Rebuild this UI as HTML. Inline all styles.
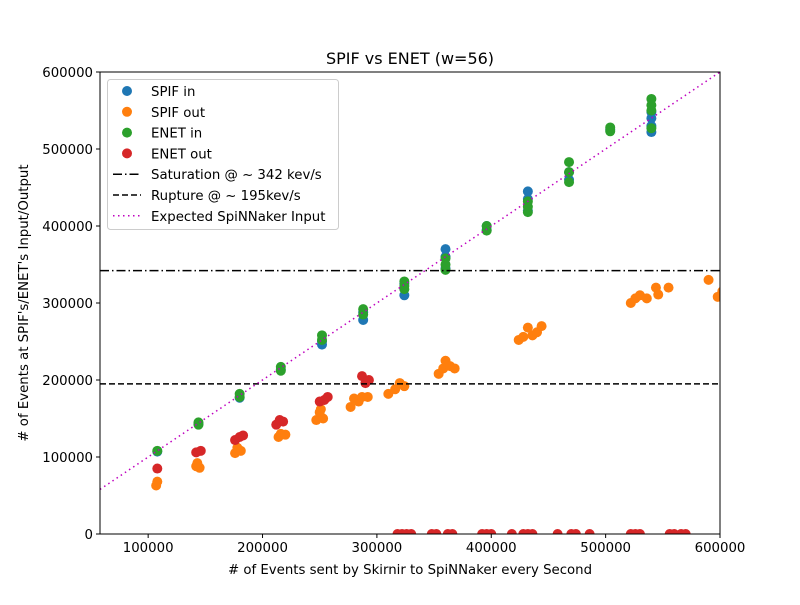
<!DOCTYPE html>
<html><head><meta charset="utf-8"><style>body{margin:0;background:#fff}svg{font-family:"DejaVu Sans","Liberation Sans",sans-serif}</style></head>
<body>
<svg id="c" width="800" height="600" xmlns="http://www.w3.org/2000/svg">
<rect width="800" height="600" fill="#fff"/>
<text x="410" y="64" font-size="16" text-anchor="middle">SPIF vs ENET (w=56)</text>
<g id="plot"></g>
<rect x="100" y="72" width="620" height="462" fill="none" stroke="#000" stroke-width="1"/>
<g id="ticks"></g>
<text x="410" y="574" font-size="13.3" text-anchor="middle"># of Events sent by Skirnir to SpiNNaker every Second</text>
<text transform="translate(28,303) rotate(-90)" font-size="13.3" text-anchor="middle"># of Events at SPIF's/ENET's Input/Output</text>
<g id="legend"></g>
</svg>
<script>
const xTicks=[100000,200000,300000,400000,500000,600000];
const yTicks=[0,100000,200000,300000,400000,500000,600000];
const clusterX=[108000,144000,180000,216000,252000,288000,324000,360000,396000,432000,468000,504000,540000];
const spifIn=[[107000],[143000],[177000],[214000],[246000,250000],[278000,288000],[310000,325000],[345000,360000,370000],[395000,400000],[420000,435000,445000],[460000,470000],[525000],[522000,530000,540000,548000]];
const enetIn=[[108000],[145000,142000],[182000,178000],[217000,212000],[258000,252000],[292000,285000],[328000,318000,322000],[343000,350000,358000],[400000,394000],[418000,425000,432000],[457000,470000,483000],[523000,528000],[527000,550000,557000,565000]];
const spifOutX=[107000,108000,142000,145000,143000,176000,178000,181000,214000,216000,220000,247000,250000,253000,251000,277000,280000,284000,287000,292000,310000,316000,320000,324000,354000,358000,360000,364000,368000,424000,428000,432000,436000,440000,444000,522000,526000,530000,536000,544000,546000,555000,590000,598000,602000];
const spifOutY=[63000,68000,88000,86000,92000,105000,112000,108000,126000,130000,129000,148000,158000,150000,162000,165000,176000,172000,178000,178000,182000,188000,196000,192000,208000,215000,225000,218000,215000,252000,256000,268000,258000,262000,270000,300000,306000,310000,306000,320000,311000,320000,330000,308000,315000];
const enetOutX=[108000,142000,146000,176000,180000,183000,212000,215000,218000,250000,254000,257000,287000,290000,293000,318000,322000,326000,330000,348000,352000,362000,366000,392000,396000,400000,418000,428000,432000,436000,458000,470000,474000,486000,522000,526000,530000,556000,560000,566000,570000];
const enetOutY=[85000,106000,108000,122000,126000,128000,142000,148000,146000,172000,174000,178000,205000,196000,200000,0,0,0,0,0,0,0,0,0,0,0,0,0,0,0,0,0,0,0,0,0,0,0,0,0,0];
const saturation=342000, rupture=195000;
const X0=100,X1=720,Y0=534,Y1=72,xmin=57895,xmax=600000,ymax=600000;
const sx=v=>X0+(v-xmin)/(xmax-xmin)*(X1-X0);
const sy=v=>Y0-v/ymax*(Y0-Y1);
const NS="http://www.w3.org/2000/svg";
function mk(tag,attrs,parent){const e=document.createElementNS(NS,tag);for(const k in attrs)e.setAttribute(k,attrs[k]);parent.appendChild(e);return e;}
const plot=document.getElementById('plot'),ticks=document.getElementById('ticks'),legend=document.getElementById('legend');
const clip=mk('clipPath',{id:'cp'},plot);mk('rect',{x:X0,y:Y1,width:X1-X0,height:Y0-Y1},clip);
const g=mk('g',{'clip-path':'url(#cp)'},plot);
function dot(x,y,c,name){const e=mk('circle',{cx:sx(x),cy:sy(y),r:5,fill:c},g);

}
clusterX.forEach((x,i)=>spifIn[i].forEach(y=>dot(x,y,'#1f77b4','spif-in-point')));
spifOutX.forEach((x,i)=>dot(x,spifOutY[i],'#ff7f0e','spif-out-point'));
clusterX.forEach((x,i)=>enetIn[i].forEach(y=>dot(x,y,'#2ca02c','enet-in-point')));
enetOutX.forEach((x,i)=>dot(x,enetOutY[i],'#d62728','enet-out-point'));
let l=mk('line',{x1:X0,x2:X1,y1:sy(saturation),y2:sy(saturation),stroke:'#000','stroke-width':1.5,'stroke-dasharray':'9,3,1.5,3'},g);


l=mk('line',{x1:X0,x2:X1,y1:sy(rupture),y2:sy(rupture),stroke:'#000','stroke-width':1.5,'stroke-dasharray':'6,3'},g);


l=mk('line',{x1:sx(xmin),x2:sx(xmax),y1:sy(xmin),y2:sy(xmax),stroke:'#bf00bf','stroke-width':1.5,'stroke-dasharray':'1.5,3.5'},g);


xTicks.forEach(v=>{const x=sx(v);mk('line',{x1:x,x2:x,y1:Y0,y2:Y0+4,stroke:'#000'},ticks);
const t=mk('text',{x:x,y:Y0+18,'font-size':13.3,'text-anchor':'middle'},ticks);t.textContent=v;

});
yTicks.forEach(v=>{const y=sy(v);mk('line',{x1:X0-4,x2:X0,y1:y,y2:y,stroke:'#000'},ticks);
const t=mk('text',{x:X0-7,y:y+5,'font-size':13.3,'text-anchor':'end'},ticks);t.textContent=v;

});
const lb=mk('rect',{x:107.5,y:79.5,width:231,height:150,rx:3,fill:'#fff','fill-opacity':0.8,stroke:'#ccc'},legend);


const entries=[['SPIF in','#1f77b4','dot'],['SPIF out','#ff7f0e','dot'],['ENET in','#2ca02c','dot'],['ENET out','#d62728','dot'],['Saturation @ ~ 342 kev/s','#000','9,3,1.5,3'],['Rupture @ ~ 195kev/s','#000','6,3'],['Expected SpiNNaker Input','#bf00bf','1.5,3.5']];
entries.forEach((e,i)=>{const y=91+i*20.8;
if(e[2]==='dot')mk('circle',{cx:127,cy:y,r:5,fill:e[1]},legend);
else mk('line',{x1:113,x2:141,y1:y,y2:y,stroke:e[1],'stroke-width':1.5,'stroke-dasharray':e[2]},legend);
const t=mk('text',{x:151,y:y+5,'font-size':13.3},legend);t.textContent=e[0];

});
</script>
</body></html>
